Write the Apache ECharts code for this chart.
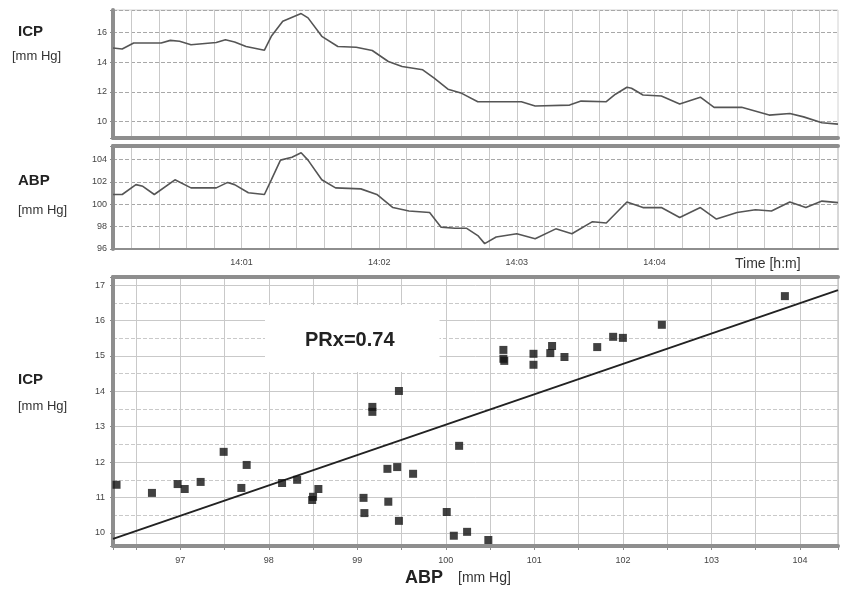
<!DOCTYPE html>
<html>
<head>
<meta charset="utf-8">
<script src="https://cdn.jsdelivr.net/npm/echarts@6/dist/echarts.min.js"></script>
<style>
    html, body { margin: 0; padding: 0; background: #fff; }
    #main { width: 847px; height: 595px; }
</style>
</head>
<body>
<div id="main"></div>
<script>
// 时间单位: 秒 (从 14:00:00 算起)
const icpTime = [4, 8, 13, 25, 29, 33, 38, 49, 53, 57, 62, 70, 73, 78, 86, 89, 95, 102, 110, 117, 124, 130, 139, 144, 150, 156, 163, 182, 188, 203, 208, 219, 223, 228, 230, 235, 243, 251, 260, 266, 278, 290, 299, 305, 313, 320]
const icpValue = [14.95, 14.88, 15.28, 15.28, 15.46, 15.4, 15.17, 15.32, 15.5, 15.35, 15.05, 14.8, 15.73, 16.74, 17.26, 16.97, 15.73, 15.05, 15.0, 14.78, 14.04, 13.7, 13.48, 12.92, 12.18, 11.9, 11.34, 11.34, 11.05, 11.11, 11.38, 11.34, 11.84, 12.31, 12.24, 11.79, 11.72, 11.18, 11.64, 10.96, 10.96, 10.44, 10.55, 10.32, 9.92, 9.83]

const abpTime = [4, 8, 14, 17, 22, 31, 38, 49, 54, 57, 63, 70, 73, 77, 82, 86, 89, 95, 101, 112, 119, 126, 133, 142, 147, 153, 158, 163, 166, 171, 180, 188, 197, 204, 213, 219, 228, 235, 243, 251, 260, 267, 276, 284, 291, 299, 306, 313, 320]
const abpValue = [100.87, 100.87, 101.75, 101.6, 100.87, 102.18, 101.46, 101.46, 101.95, 101.75, 101.02, 100.87, 102.18, 103.94, 104.2, 104.6, 103.94, 102.18, 101.46, 101.37, 100.87, 99.7, 99.4, 99.26, 97.95, 97.86, 97.86, 97.2, 96.48, 97.07, 97.36, 96.92, 97.8, 97.36, 98.44, 98.32, 100.2, 99.7, 99.7, 98.82, 99.7, 98.67, 99.26, 99.5, 99.4, 100.2, 99.7, 100.28, 100.14]

// PRx 散点 (ABP, ICP)
const prxAbp = [96.28, 96.68, 96.97, 97.05, 97.23, 97.49, 97.69, 97.75, 98.15, 98.32, 98.49, 98.5, 98.56, 99.17, 99.17, 99.47, 99.07, 99.08, 99.34, 99.45, 99.35, 99.47, 99.63, 100.01, 100.15, 100.09, 100.24, 100.48, 100.65, 100.65, 100.66, 100.99, 100.99, 101.2, 101.18, 101.34, 101.71, 101.89, 102.0, 102.44, 103.83]
const prxIcp = [11.36, 11.13, 11.38, 11.24, 11.44, 12.29, 11.27, 11.92, 11.41, 11.5, 10.93, 11.02, 11.24, 13.56, 13.42, 14.01, 10.99, 10.56, 11.81, 11.86, 10.88, 10.34, 11.67, 10.59, 12.46, 9.92, 10.03, 9.8, 15.17, 14.92, 14.86, 15.06, 14.75, 15.28, 15.08, 14.97, 15.25, 15.54, 15.51, 15.88, 16.69]

// 回归直线两端
const fitAbp = [96.24, 104.43]
const fitIcp = [9.83, 16.86]

// 时间轴刻度 (每 4 秒一个类目), 标签只在这几分钟
const timeTicks = []
for (let t = 4; t <= 320; t += 4) {
    timeTicks.push(String(t))
}
const timeLabelSecs = [60, 120, 180, 240]

const axisGray = '#8e8e8e'
const gridGray = '#c9c9c9'
const labelStyle = { fontSize: 9, color: '#444', fontFamily: 'Liberation Sans' }

function every12(index, value) {
    return Number(value) % 12 === 0
}
function onLabelSecs(index, value) {
    return timeLabelSecs.indexOf(Number(value)) !== -1
}
function timeLabel(value) {
    let m = Math.floor(Number(value) / 60)
    return '14:' + String(m).padStart(2, '0')
}
function evenOnly(v) {
    return Math.abs(v - Math.round(v)) < 1e-6 && Math.round(v) % 2 === 0 ? String(Math.round(v)) : ''
}
function intOnly(v) {
    return Math.abs(v - Math.round(v)) < 1e-6 ? String(Math.round(v)) : ''
}

let myChart = echarts.init(document.querySelector('#main'))

const option = {
    animation: false,
    backgroundColor: '#fff',

    grid: [
        { left: 113, right: 9, top: 10, height: 128, show: true, borderColor: '#d2d2d2', borderWidth: 1 },
        { left: 113, right: 9, top: 146, height: 103, show: true, borderColor: '#b0b0b0', borderWidth: 1 },
        { left: 113, right: 9, top: 277, height: 269, show: true, borderColor: '#b0b0b0', borderWidth: 1 }
    ],

    xAxis: [
        // 上图: 网格用类目轴
        {
            type: 'category', gridIndex: 0, data: timeTicks, boundaryGap: false,
            axisLine: { lineStyle: { color: axisGray, width: 4 } },
            axisTick: { show: false },
            axisLabel: { show: false },
            splitLine: { show: true, interval: every12, lineStyle: { color: gridGray } }
        },
        { type: 'value', gridIndex: 0, min: 4, max: 320, show: false },
        // 中图
        {
            type: 'category', gridIndex: 1, data: timeTicks, boundaryGap: false,
            axisLine: { lineStyle: { color: axisGray, width: 2 } },
            axisTick: { show: false },
            axisLabel: Object.assign({ interval: onLabelSecs, formatter: timeLabel, margin: 9 }, labelStyle),
            splitLine: { show: true, interval: every12, lineStyle: { color: gridGray } }
        },
        {
            type: 'value', gridIndex: 1, min: 4, max: 320, position: 'top',
            axisLine: { show: true, onZero: false, lineStyle: { color: axisGray, width: 4 } },
            axisTick: { show: false },
            axisLabel: { show: false },
            splitLine: { show: false }
        },
        // 下图 ABP
        {
            type: 'value', gridIndex: 2, min: 96.24, max: 104.43, minInterval: 1, maxInterval: 1,
            axisLine: { onZero: false, lineStyle: { color: axisGray, width: 4 } },
            axisTick: { show: true, length: 4, lineStyle: { color: axisGray } },
            minorTick: { show: true, splitNumber: 2, length: 4, lineStyle: { color: axisGray } },
            axisLabel: Object.assign({ formatter: intOnly, margin: 10 }, labelStyle),
            splitLine: { show: true, lineStyle: { color: gridGray } },
            minorSplitLine: { show: true, lineStyle: { color: gridGray } }
        },
        {
            type: 'value', gridIndex: 2, min: 96.24, max: 104.43, position: 'top',
            axisLine: { show: true, onZero: false, lineStyle: { color: axisGray, width: 4 } },
            axisTick: { show: false },
            axisLabel: { show: false },
            splitLine: { show: false }
        }
    ],

    yAxis: [
        {
            type: 'value', gridIndex: 0, min: 8.9, max: 17.5, minInterval: 2, maxInterval: 2,
            axisLine: { show: true, onZero: false, lineStyle: { color: axisGray, width: 4 } },
            axisTick: { show: true, length: 3, lineStyle: { color: axisGray } },
            axisLabel: Object.assign({ formatter: evenOnly, margin: 6 }, labelStyle),
            splitLine: { lineStyle: { color: '#a8a8a8', type: 'dashed' } }
        },
        {
            type: 'value', gridIndex: 1, min: 96, max: 105.2, minInterval: 2, maxInterval: 2,
            axisLine: { show: true, onZero: false, lineStyle: { color: axisGray, width: 4 } },
            axisTick: { show: true, length: 3, lineStyle: { color: axisGray } },
            axisLabel: Object.assign({ formatter: evenOnly, margin: 6 }, labelStyle),
            splitLine: { lineStyle: { color: '#a8a8a8', type: 'dashed' } }
        },
        {
            type: 'value', gridIndex: 2, min: 9.63, max: 17.23, minInterval: 1, maxInterval: 1,
            axisLine: { show: true, onZero: false, lineStyle: { color: axisGray, width: 4 } },
            axisTick: { show: true, length: 3, lineStyle: { color: axisGray } },
            minorTick: { show: false, splitNumber: 2 },
            axisLabel: Object.assign({ formatter: intOnly, margin: 8 }, labelStyle),
            splitLine: { lineStyle: { color: gridGray } },
            minorSplitLine: { show: true, lineStyle: { color: gridGray, type: 'dashed' } }
        }
    ],

    series: [
        {
            name: 'ICP', type: 'line', xAxisIndex: 1, yAxisIndex: 0,
            data: icpTime.map((t, i) => [t, icpValue[i]]),
            symbol: 'none', lineStyle: { color: '#555', width: 1.6 }
        },
        {
            name: 'ABP', type: 'line', xAxisIndex: 3, yAxisIndex: 1,
            data: abpTime.map((t, i) => [t, abpValue[i]]),
            symbol: 'none', lineStyle: { color: '#555', width: 1.6 }
        },
        {
            name: 'fit', type: 'line', xAxisIndex: 4, yAxisIndex: 2,
            data: fitAbp.map((x, i) => [x, fitIcp[i]]),
            symbol: 'none', lineStyle: { color: '#222', width: 2 }, z: 3
        },
        {
            name: 'PRx', type: 'scatter', xAxisIndex: 4, yAxisIndex: 2,
            data: prxAbp.map((x, i) => [x, prxIcp[i]]),
            symbol: 'rect', symbolSize: 8, itemStyle: { color: '#111' }, z: 4
        }
    ],

    // 文字说明
    graphic: [
        { type: 'text', left: 18, top: 24, style: { text: 'ICP', font: 'bold 15px "Liberation Sans"', fill: '#222' } },
        { type: 'text', left: 12, top: 50, style: { text: '[mm Hg]', font: '13px "Liberation Sans"', fill: '#333' } },
        { type: 'text', left: 18, top: 173, style: { text: 'ABP', font: 'bold 15px "Liberation Sans"', fill: '#222' } },
        { type: 'text', left: 18, top: 204, style: { text: '[mm Hg]', font: '13px "Liberation Sans"', fill: '#333' } },
        { type: 'text', left: 735, top: 257, style: { text: 'Time [h:m]', font: '14px "Liberation Sans"', fill: '#333' } },
        { type: 'text', left: 18, top: 372, style: { text: 'ICP', font: 'bold 15px "Liberation Sans"', fill: '#222' } },
        { type: 'text', left: 18, top: 400, style: { text: '[mm Hg]', font: '13px "Liberation Sans"', fill: '#333' } },
        {
            type: 'text', left: 265, top: 305, z: 10,
            style: {
                text: 'PRx=0.74', font: 'bold 20px "Liberation Sans"', fill: '#222',
                backgroundColor: '#fff', padding: [25, 45, 22, 40]
            }
        },
        { type: 'text', left: 405, top: 569, style: { text: 'ABP', font: 'bold 18px "Liberation Sans"', fill: '#222' } },
        { type: 'text', left: 458, top: 571, style: { text: '[mm Hg]', font: '14px "Liberation Sans"', fill: '#333' } }
    ]
}

myChart.setOption(option)
</script>
</body>
</html>
